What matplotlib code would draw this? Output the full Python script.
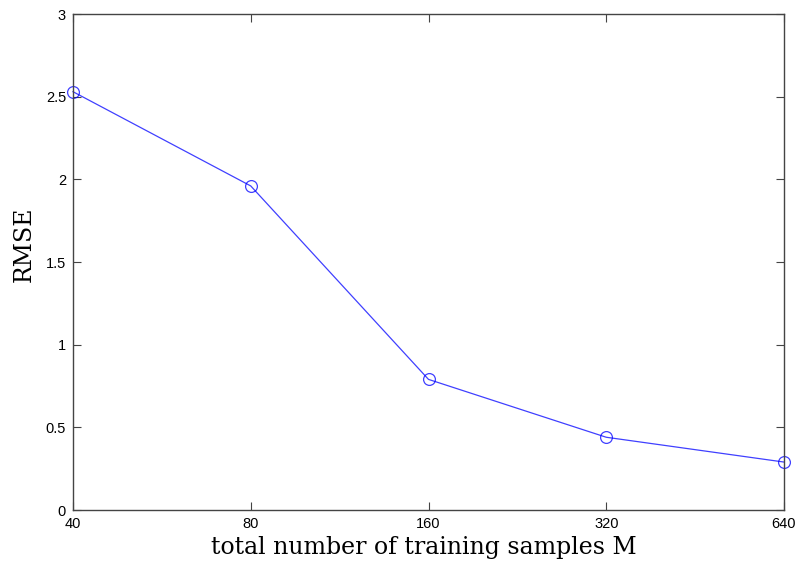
import matplotlib.pyplot as plt
import numpy as np

samples = [40, 80, 160, 320, 640]
rmse = [2.53, 1.96, 0.79, 0.44, 0.29]
yticks = [0, 0.5, 1, 1.5, 2, 2.5, 3]
ytick_labels = ['0', '0.5', '1', '1.5', '2', '2.5', '3']

fig = plt.figure(figsize=(8.02, 5.68), dpi=100)
ax = fig.add_axes([73/802, 1 - 510/568, (784-73)/802, (510-14)/568])

ax.plot(samples, rmse, color='#0000ff', linewidth=0.9, marker='o',
        markersize=8.5, markerfacecolor='none', markeredgecolor='#0000ff',
        markeredgewidth=0.9, alpha=0.75, clip_on=False)

ax.set_xscale('log', base=2)
ax.set_xlim(40, 640)
ax.set_ylim(0, 3)
ax.set_xticks(samples)
ax.set_xticklabels([str(s) for s in samples])
ax.minorticks_off()
ax.set_yticks(yticks)
ax.set_yticklabels(ytick_labels)

for s in ax.spines.values():
    s.set_color('#444444')
    s.set_linewidth(1.0)
ax.tick_params(direction='in', length=6, width=0.8, color='#444444',
               top=True, right=True, labelsize=10.5, pad=5)
for lab in ax.get_xticklabels() + ax.get_yticklabels():
    lab.set_family('Liberation Sans')

ax.set_xlabel('total number of training samples M', family='DejaVu Serif',
              fontsize=17)
ax.xaxis.set_label_coords(0.493, -0.052)
ax.set_ylabel('RMSE', family='DejaVu Serif', fontsize=17)
ax.yaxis.set_label_coords(-0.053, 0.536)

fig.savefig('out.png', dpi=100)
